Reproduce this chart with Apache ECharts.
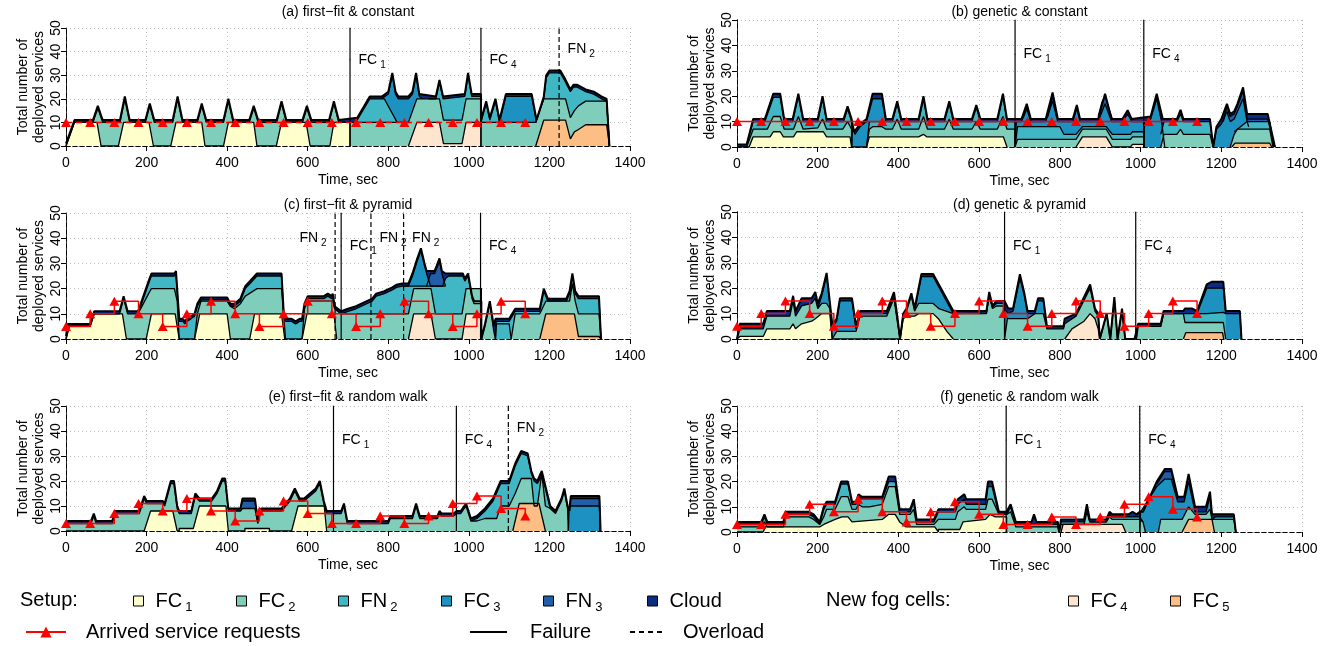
<!DOCTYPE html>
<html>
<head>
<meta charset="utf-8">
<script src="https://cdn.jsdelivr.net/npm/echarts/dist/echarts.min.js"></script>
<style>
html, body { margin: 0; padding: 0; background: #fff; }
#chart { width: 1334px; height: 646px; }
</style>
</head>
<body>
<div id="chart"></div>
<script>
// arrival times of service requests and their sizes
var reqTimes = [0,60,120,180,240,300,360,420,480,540,600,660,720,780,840,900,960,1020,1080,1140];
var reqConstant = [10,10,10,10,10,10,10,10,10,10,10,10,10,10,10,10,10,10,10,10];
var reqPyramid = [5,10,15,10,5,10,15,10,5,10,15,10,5,10,15,10,5,10,15,10];
var reqWalk = [3,3,7,11,8,13,8,4,8,12,7,3,3,6,3,6,11,14,9,6];

// stacked boundaries (cumulative number of services), null = gap
// (a) first-fit & constant
var a_FC1 = [[0,0],[21,10],[77,10],[87,0],[130,0],[143,10],[206,10],[217,0],[260,0],[273,10],[337,10],[345,0],[391,0],[403,10],[466,10],[474,0],[522,0],[535,10],[596,10],[606,0],[655,0],[665,10],[705,10],[705,0]];
var a_FC4 = [[850,0],[871,10],[927,10],[937,1],[983,1],[993,10],[1030,10],[1030,0]];
var a_FC5 = [[1166,0],[1186,11],[1240,11],[1252,3],[1262,6],[1272,7],[1290,9],[1342,9],[1349,0]];
var a_FC2 = [[0,0],[21,10],[67,10],[79,16],[91,10],[134,10],[146,20],[158,10],[197,10],[208,17],[219,10],[265,10],[277,20],[289,10],[326,10],[337,17],[348,10],[391,10],[403,19],[415,10],[455,10],[466,16],[477,10],[523,10],[535,18],[547,10],[587,10],[598,16],[609,10],[653,10],[665,18],[677,10],[850,10],[871,20],[927,20],[937,11],[983,11],[993,20],[1030,20],[1030,10],[1166,10],[1186,20],[1240,20],[1252,12],[1262,15],[1272,17],[1290,19],[1342,19],[1349,0]];
var a_FN2 = [[716,10],[723,11],[754,20],[790,20],[822,10],null,[900,20],[918,20],[927,27],[936,20],[990,21],[998,30],[1007,21],[1030,21],[1030,10],[1043,18],[1052,11],[1066,19],[1076,10],null,[1166,10],[1186,20],[1192,29],[1200,31],[1227,31],[1237,28],[1252,23],[1260,25],[1268,25],[1290,23],[1310,22],[1329,20],[1342,19],[1349,0]];
var a_FC3 = [[784,20],[800,22],[810,30],[818,22],[825,20],[850,20],[860,22],[869,30],[877,21],[885,20],null,[1076,10],[1092,21],[1156,21],[1168,10]];
var a_total = [[0,1],[21,11],[67,11],[79,17],[91,11],[134,11],[146,21],[158,11],[197,11],[208,18],[219,11],[265,11],[277,21],[289,11],[326,11],[337,18],[348,11],[391,11],[403,20],[415,11],[455,11],[466,17],[477,11],[523,11],[535,19],[547,11],[587,11],[598,17],[609,11],[653,11],[665,19],[677,11],[723,12],[754,21],[784,21],[800,23],[810,31],[818,23],[825,21],[850,21],[860,23],[869,31],[877,22],[918,21],[927,28],[936,21],[990,22],[998,31],[1007,22],[1030,22],[1030,11],[1043,19],[1052,12],[1066,20],[1076,11],[1092,22],[1156,22],[1168,11],[1186,21],[1192,30],[1200,32],[1227,32],[1237,29],[1252,24],[1260,26],[1268,26],[1290,24],[1310,23],[1329,21],[1342,20],[1349,0]];
var a_events = [[705,'FC1','failure'],[1030,'FC4','failure'],[1224,'FN2','overload']];

// (b) genetic & constant
var b_FC1 = [[0,0],[30,0],[40,4],[82,4],[90,6],[107,6],[115,4],[140,4],[148,6],[214,6],[222,4],[280,4],[284,0],[321,0],[328,4],[450,4],[462,5],[470,4],[660,4],[669,0]];
var b_FC4 = [[840,0],[856,4],[915,4],[930,0],[975,0],[980,1],[1008,1],[1008,0]];
var b_FC5 = [[1226,0],[1234,1.5],[1320,1.5],[1325,0]];
var b_FC2 = [[24,0],[40,7],[75,7],[90,12],[107,12],[117,7],[140,7],[152,12],[164,7],[200,7.5],[212,11],[222,7],[262,7],[274,10],[284,7],[284,0],null,[321,0],[328,7],[336,8],[359,8],[369,7],[385,7],[397,11],[407,7],[450,7],[462,12],[472,7],[514,7],[526,11],[536,7],[582,7],[593,10],[603,7],[645,7],[659,12],[669,7],[689,7],[689,0],[695,3],[840,3],[856,7],[915,7],[930,3],[975,3],[980,4],[1008,4],[1008,0],null,[1050,0],[1058,5],[1090,5],[1099,7],[1106,5],[1172,5],[1180,0],null,[1222,0],[1232,5],[1240,7],[1320,7],[1328,0]];
var b_FN2 = [[24,1],[40,10],[69,10],[90,19.5],[107,19.5],[117,10],[138,10],[152,20],[164,10],[200,10],[212,19],[222,10],[264,10],[274,15],[284,10],[284,0],null,[321,0],[328,10],[385,10],[397,17],[407,10],[450,10],[462,19],[472,10],[514,10],[526,17],[536,10],[582,10],[593,15.5],[603,10],[645,10],[659,20],[669,10],[689,10],[689,0],[695,8],[800,8],[810,5],[840,5],[856,8],[915,8],[930,5],[975,5],[980,6],[1008,6],[1008,0],null,[1050,5],[1058,10],[1090,10],[1099,13],[1106,10],[1172,10],[1180,0],null,[1232,6],[1264,10],[1320,10],[1330,0]];
var b_FC3 = [[284,0],[286,8],[292,5],[305,8],[321,10],[336,19],[359,19],[369,10],null,[689,0],[692,10],[705,10],[718,15],[728,10],[765,10],[782,18],[795,10],[832,10],[842,15],[850,10],[895,10],[912,17],[928,10],[955,10],[968,13],[978,10],[1008,10],[1008,0],[1010,10],[1025,11],[1040,19],[1052,10],[1056,5],[1060,0],null,[1180,0],[1188,7],[1200,9],[1214,14],[1222,10],[1232,11],[1240,14],[1254,19],[1264,10],[1268,8]];
var b_FN3 = [[710,12],[718,16],[726,12],null,[770,12],[782,20],[792,12],null,[895,12],[905,18],[912,20],[920,16],[930,11],null,[1030,14],[1040,20],[1050,12],null,[1205,10],[1214,16],[1222,12],[1232,13],[1240,16],[1254,22],[1264,11],[1315,11],[1333,0]];
var b_total = [[0,1],[24,1],[40,11],[69,11],[90,21],[107,21],[117,11],[138,11],[152,21],[164,11],[200,11],[212,20],[222,11],[264,11],[274,16],[284,11],[290,6],[305,9],[321,11],[336,21],[359,21],[369,11],[385,11],[397,18],[407,11],[450,11],[462,20],[472,11],[514,11],[526,18],[536,11],[582,11],[593,16.5],[603,11],[645,11],[659,21],[669,11],[705,11],[718,17],[728,11],[765,11],[782,21.5],[795,11],[832,11],[842,16.5],[850,11],[895,11],[912,21],[928,11],[955,11],[968,14.5],[978,11],[1025,12],[1040,21],[1055,11],[1090,11],[1099,14.6],[1106,11],[1172,11],[1180,0],[1188,8],[1200,11],[1214,17],[1222,13],[1232,14],[1240,17],[1254,23.5],[1264,13],[1315,13],[1333,0]];
var b_events = [[689,'FC1','failure'],[1008,'FC4','failure']];

// (c) first-fit & pyramid
var c_FC1 = [[0,0],[8,5],[60,5],[70,10],[140,10],[150,0],[199,0],[212,10],[271,10],[281,0],[319,0],[332,10],[400,10],[408,0],[456,0],[468,10],[535,10],[543,0],[586,0],[598,10],[665,10],[672,0]];
var c_FC4 = [[850,0],[863,10],[906,10],[917,0],[983,0],[993,10],[1031,10],[1031,0]];
var c_FC5 = [[1176,0],[1191,10],[1262,10],[1272,1],[1323,1],[1328,0]];
var c_FC2 = [[0,0],[8,5],[60,5],[70,10],[133,10],[143,16],[153,10],[179,10],[205,18],[212,20],[269,20],[276,15],[281,0],null,[319,0],[326,10],[335,15],[400,15],[408,13],[418,12],[433,14],[445,17],[474,20],[535,20],[541,8],[545,0],null,[586,0],[592,12],[600,15],[662,15],[667,12],[683,10],[850,10],[863,20],[906,20],[917,10],[983,10],[993,20],[1031,20],[1031,0],[1040,5],[1052,14],[1062,3],[1066,0],null,[1105,0],[1115,10],[1176,10],[1191,15],[1250,15],[1257,22],[1264,15],[1272,10],[1323,10],[1328,0]];
var c_FN2 = [[179,10],[205,22],[212,25],[269,25],[273,26],[281,7],[290,7],[295,6],[300,7],[310,8],[319,9],[326,13],[335,15.5],[400,15.5],[408,13],[418,13],[433,15],[445,20],[474,25],[535,25],[541,8],[545,7],[560,7],[570,6],[580,7],[586,7],[592,13],[600,16],[640,16],[650,17],[660,16],[662,17],[667,12],[683,10],[700,11],[720,12],[740,13.5],[760,15],[770,17],[790,18],[810,19.5],[820,20.5],[835,21],[935,21],[942,24],[950,25],[985,25],[990,23],[998,25],[1008,16],[1013,14],[1031,14],[1031,0],null,[1066,0],[1068,7],[1100,7],[1115,11],[1176,11],[1186,19],[1196,15],[1242,15],[1250,18],[1257,25],[1264,18],[1272,16],[1323,16],[1328,0]];
var c_FC3 = [[840,21],[850,21],[860,25],[872,31],[881,35],[890,29],[897,25],[905,21],[942,21],null,[1066,0],[1068,6],[1100,6],[1105,0]];
var c_FN3 = [[895,21],[905,26],[915,26],[920,28],[927,31],[933,26],[942,21]];
var c_total = [[0,1],[4,6],[60,6],[70,11],[133,11],[143,17],[153,11],[179,11],[205,23],[212,26],[269,26],[273,27],[281,8],[290,8],[295,7],[300,8],[310,9],[319,10],[326,14],[335,16.5],[400,16.5],[408,14],[418,14],[433,16],[445,21],[474,26],[535,26],[541,9],[545,8],[560,8],[570,7],[580,8],[586,8],[592,14],[600,17],[640,17],[650,18],[660,17],[662,18],[667,13],[683,11],[700,12],[720,13],[740,14.5],[760,16],[770,18],[790,19],[810,20.5],[820,21.5],[835,22],[850,22],[860,26],[872,32],[881,36],[890,30],[895,27],[915,27],[920,29],[927,32],[933,27],[942,26],[985,26],[990,24],[998,26],[1008,17],[1013,15],[1031,15],[1031,0],[1040,6],[1052,15],[1062,5],[1066,8],[1100,8],[1115,12],[1176,12],[1186,20],[1196,16],[1242,16],[1250,19],[1257,26],[1264,19],[1272,17],[1323,17],[1328,0]];
var c_events = [[668,'FN2','overload','left'],[683,'FC1','failure'],[757,'FN2','overload'],[838,'FN2','overload'],[1029,'FC4','failure']];

// (d) genetic & pyramid
var d_FC1 = [[0,0],[7,1],[65,1],[74,4],[131,4],[139,6],[145,4],[160,6],[185,7],[194,8],[210,10],[230,10],[236,0],[404,0],[412,8],[420,9],[440,9],[450,10],[486,10],[499,8],[520,3],[536,0]];
var d_FC4 = [[812,0],[830,4],[860,7],[875,10],[887,8],[895,4],[899,0]];
var d_FC5 = [[1106,0],[1112,2.5],[1203,2.5],[1206,0]];
var d_FC2 = [[0,0],[7,4],[65,4],[74,9],[131,9],[139,15],[145,9],[160,13],[185,14],[194,16],[200,12],[210,14],[222,14],[230,12],[236,0],[247,3],[295,3],[305,9],[371,9],[389,16],[398,6],[404,0],[412,10],[420,11],[432,17],[440,11],[450,14],[486,14],[500,12],[536,10],[618,10],[625,17],[633,12],[643,13],[663,13],[663,0],[670,8],[720,8],[738,10],[759,10],[768,4],[809,4],[812,6],[840,9],[875,20],[887,11],[895,9],[899,0],[916,10],[925,0],[935,15.5],[943,0],[954,11],[962,0],[990,0],[994,5],[1050,5],[1057,10],[1106,10],[1110,6.5],[1205,6.5],[1211,0]];
var d_FN2 = [[295,4],[305,10],[371,10],[389,17],[398,7],[404,0],null,[536,10],[618,10.3],[625,17.5],[633,12.5],[643,14],[663,14],null,[1050,5],[1057,10],[1106,10],[1164,10],[1205,10.5],[1211,10]];
var d_FC3 = [[200,12],[210,17],[222,25],[236,5],[247,7],[255,15],[285,15],[295,4],null,[440,11],[450,19],[457,24.6],[486,24.6],[536,10],null,[663,12],[672,10],[684,11],[701,24],[712,17],[720,10],[738,10],[746,15],[759,15],[768,4],null,[1140,10],[1164,20],[1205,20],[1211,10],[1246,10],[1250,0]];
var d_total = [[0,0],[7,6],[65,6],[74,11],[131,11],[139,17],[145,11],[160,16],[185,16],[194,18.5],[200,14],[210,18],[222,26],[236,6],[247,8],[255,16],[285,16],[295,5],[305,11],[371,11],[389,18.5],[398,8],[404,0],[412,10],[420,12],[432,18],[440,12],[450,20],[457,25.6],[486,25.6],[536,11],[618,11],[625,18.5],[633,13],[643,15],[663,15],[672,12],[684,12],[701,25.5],[712,18],[720,11],[738,11],[746,16],[759,16],[768,5],[809,5],[812,8],[840,10],[875,21.5],[887,12],[895,10],[899,0],[916,10],[925,0],[935,16.5],[943,0],[954,12],[962,0],[985,0],[994,6],[1050,6],[1057,11],[1106,11],[1110,12],[1127,12],[1140,11],[1164,21.5],[1176,22.5],[1205,22.5],[1211,11],[1246,11],[1250,0]];
var d_events = [[663,'FC1','failure'],[988,'FC4','failure']];

// (e) first-fit & random walk
var e_FC1 = [[0,0],[194,0],[210,8],[265,8],[276,0],[281,0],[281,1],[316,1],[331,10],[397,10],[403,0],[444,0],[444,1],[505,1],[505,0],[560,0],[576,10],[641,10],[647,0]];
var e_FC5 = [[1109,0],[1125,11],[1174,11],[1190,0]];
var e_FC2 = [[0,3],[62,3],[69,6],[75,3],[115,3],[121,7],[182,7],[188,10],[194,13],[200,11],[240,11],[245,10],[250,13],[260,19],[268,19],[276,9],[281,7],[311,7],[321,14],[331,12],[362,12],[375,15],[388,20],[395,20],[403,8],[433,8],[438,9],[469,9],[476,3],[484,8],[535,8],[556,12],[568,16],[580,12],[591,12],[620,16],[630,19],[640,11],[647,7],[683,7],[690,10],[698,3],[800,3],[805,5],[860,5],[869,10],[878,5],[922,5],[927,7],[932,6],[962,6],[970,7],[980,7],[993,10],[1005,4],[1020,4],[1040,5],[1069,5],[1079,10],[1100,10],[1115,15],[1130,21],[1155,21],[1162,10],[1170,10],[1181,23],[1190,10],[1202,9],[1215,7],[1230,12],[1237,16],[1245,9],[1247,0]];
var e_FN2 = [[1005,4],[1020,5],[1040,8],[1060,12],[1079,19],[1100,19],[1115,26],[1130,31],[1146,30],[1155,23],[1162,20],[1170,19],[1181,22],[1190,17],[1202,9]];
var e_FC3 = [[1247,0],[1249,10],[1324,10],[1326,0]];
var e_FN3 = [[433,9],[438,12],[469,12],[476,4],null,[1249,10],[1253,13],[1324,13],[1326,0]];
var e_total = [[0,3],[5,4],[62,4],[69,7],[75,4],[115,4],[121,8],[182,8],[188,11],[194,14],[200,12],[240,12],[245,11],[250,14],[260,20],[268,20],[276,10],[281,8],[311,8],[321,15],[331,13],[362,13],[375,16],[388,21],[395,21],[403,9],[433,9],[438,13],[469,13],[476,4],[484,9],[535,9],[556,13],[568,17],[580,13],[591,13],[620,17],[630,20],[640,12],[647,8],[683,8],[690,11],[698,4],[800,4],[805,6],[860,6],[869,11],[878,6],[922,6],[927,8],[932,7],[962,7],[970,8],[980,8],[993,11],[1005,5],[1020,6],[1040,9],[1060,13],[1079,20],[1100,20],[1115,27],[1130,32],[1146,31],[1155,24],[1162,21],[1170,20],[1181,24],[1190,18],[1202,10],[1215,8],[1230,13],[1237,17],[1245,10],[1250,8],[1253,14],[1324,14],[1327,0]];
var e_events = [[664,'FC1','failure'],[969,'FC4','failure'],[1098,'FN2','overload']];

// (f) genetic & random walk
var f_FC1 = [[0,0],[65,0],[70,2],[205,2],[215,3],[243,5],[260,6],[275,6],[285,4],[360,5],[376,7],[392,7],[403,4],[419,2],[490,2],[499,0],[499,1],[552,1],[560,4],[616,5],[627,7],[640,6],[668,6],[668,0]];
var f_FC4 = [[803,0],[808,3],[955,3],[963,0]];
var f_FC5 = [[1103,0],[1119,5],[1177,5],[1183,0]];
var f_FC2 = [[0,2],[60,2],[68,4],[75,2],[115,2],[120,6],[178,6],[190,5],[205,3],[215,6],[222,9],[243,9],[258,14],[275,14],[285,9],[295,9],[301,11],[310,10],[328,10],[360,11],[376,18],[392,18],[403,7],[429,7],[438,9],[445,3],[488,3],[499,5],[541,5],[547,8],[563,10],[568,9],[616,9],[622,13],[632,13],[649,7],[668,7],[678,8],[691,2],[795,2],[798,0],[803,3],[860,3],[867,8],[874,4],[915,4],[923,6],[930,5],[970,5],[998,5],[1006,4],[1012,0],null,[1044,0],[1050,5],[1103,5],[1119,10],[1135,7],[1162,7],[1172,9],[1177,5],[1231,5],[1236,0]];
var f_FN2 = [[0,3],[60,3],[68,6],[75,3],[115,3],[120,7],[178,7],[190,6],[205,3],[215,9],[222,11],[243,11],[258,19],[275,19],[285,11],[295,11],[301,14],[310,13],[328,13],[360,13],[376,20],[392,20],[403,8],[429,8],[438,12],[445,4],[488,4],[499,8],[541,8],[547,11],[563,13],[568,11],[616,11],[622,18],[632,18],[649,7],[668,7],[678,10],[691,3],[795,3],[798,0],[803,4],[860,4],[867,10],[874,4],[915,4],[923,7],[930,6],[970,6],[998,6],[1006,4],null,[1177,5],[1185,6],[1231,6],[1236,0]];
var f_FC3 = [[998,0],[1000,8],[1040,18],[1060,21],[1076,21],[1092,12],[1108,12],[1119,20],[1135,8],[1162,8],[1172,14],[1177,6]];
var f_FN3 = [[1040,19],[1060,24],[1076,24],[1092,13]];
var f_total = [[0,3],[5,4],[60,4],[68,7],[75,4],[115,4],[120,8],[178,8],[190,7],[205,4],[215,10],[222,12],[243,12],[258,20],[275,20],[285,12],[295,12],[301,15],[310,14],[328,14],[360,14],[376,22],[392,22],[403,9],[429,9],[438,13],[445,5],[488,5],[499,9],[541,9],[547,13],[563,15],[568,13],[616,13],[622,20],[632,20],[649,8],[668,8],[678,11],[691,4],[730,4],[736,7],[742,4],[795,4],[798,0],[803,5],[860,5],[867,11],[874,5],[915,5],[923,8],[930,7],[970,7],[980,8],[990,7],[998,8],[1006,8],[1040,20],[1060,25],[1076,25],[1092,14],[1108,14],[1119,23],[1135,10],[1162,10],[1172,16],[1177,7],[1231,7],[1236,0]];
var f_events = [[667,'FC1','failure'],[998,'FC4','failure']];

var colors = {
    FC1: '#ffffcc', FC2: '#7fcdbb', FN2: '#41b6c4', FC3: '#1d91c0',
    FN3: '#225ea8', Cloud: '#0c2c84', FC4: '#fee6ce', FC5: '#fdbe85'
};
// drawn from the top of the stack down, each fills to zero
var paintOrder = ['Cloud', 'FN3', 'FC3', 'FN2', 'FC2', 'FC5', 'FC4', 'FC1'];
var FONT = '"Liberation Sans", Arial, sans-serif';

var panels = [
    { title: '(a) first\u2212fit & constant', req: reqConstant, dashedReq: true, events: a_events,
      layers: { Cloud: a_total, FC3: a_FC3, FN2: a_FN2, FC2: a_FC2, FC5: a_FC5, FC4: a_FC4, FC1: a_FC1 },
      box: { left: 66, top: 28, width: 564, height: 118 }, titleY: 12 },
    { title: '(b) genetic & constant', req: reqConstant, events: b_events,
      layers: { Cloud: b_total, FN3: b_FN3, FC3: b_FC3, FN2: b_FN2, FC2: b_FC2, FC5: b_FC5, FC4: b_FC4, FC1: b_FC1 },
      box: { left: 737, top: 20, width: 565, height: 127 }, titleY: 12 },
    { title: '(c) first\u2212fit & pyramid', req: reqPyramid, events: c_events,
      layers: { Cloud: c_total, FN3: c_FN3, FC3: c_FC3, FN2: c_FN2, FC2: c_FC2, FC5: c_FC5, FC4: c_FC4, FC1: c_FC1 },
      box: { left: 66, top: 213, width: 564, height: 126 }, titleY: 205 },
    { title: '(d) genetic & pyramid', req: reqPyramid, events: d_events,
      layers: { Cloud: d_total, FC3: d_FC3, FN2: d_FN2, FC2: d_FC2, FC5: d_FC5, FC4: d_FC4, FC1: d_FC1 },
      box: { left: 737, top: 212, width: 565, height: 127 }, titleY: 205 },
    { title: '(e) first\u2212fit & random walk', req: reqWalk, events: e_events,
      layers: { Cloud: e_total, FN3: e_FN3, FC3: e_FC3, FN2: e_FN2, FC2: e_FC2, FC5: e_FC5, FC1: e_FC1 },
      box: { left: 66, top: 406, width: 564, height: 125 }, titleY: 397 },
    { title: '(f) genetic & random walk', req: reqWalk, events: f_events,
      layers: { Cloud: f_total, FN3: f_FN3, FC3: f_FC3, FN2: f_FN2, FC2: f_FC2, FC5: f_FC5, FC4: f_FC4, FC1: f_FC1 },
      box: { left: 737, top: 406, width: 565, height: 126 }, titleY: 397 }
];

function sub(name) {
    var m = /^([A-Z]+)(\d)$/.exec(name);
    return m ? '{m|' + m[1] + '}{s|' + m[2] + '}' : name;
}
function toData(pts) {
    return pts.map(function (p) { return p === null ? ['-', '-'] : p; });
}

var grids = [], xAxes = [], yAxes = [], series = [], graphics = [];
var dashedEdge = { show: true, lineStyle: { color: '#000', type: [4, 3], width: 1 } };

panels.forEach(function (p, i) {
    grids.push({ left: p.box.left, top: p.box.top, width: p.box.width, height: p.box.height, outerBoundsMode: 'none' });
    xAxes[i] = {
        type: 'value', gridIndex: i, min: 0, max: 1400, interval: 200,
        axisLine: dashedEdge,
        axisTick: { show: true, length: 5, lineStyle: { color: '#000' } },
        axisLabel: { fontSize: 14, color: '#000', margin: 10, fontFamily: FONT,
                     formatter: function (v) { return String(v); } },
        splitLine: { show: true, lineStyle: { color: '#bdbdbd', type: [1, 3] } },
        name: 'Time, sec', nameLocation: 'middle', nameGap: 27,
        nameTextStyle: { fontSize: 14, color: '#000', fontFamily: FONT }
    };
    xAxes[i + 6] = {
        type: 'value', gridIndex: i, min: 0, max: 1400, position: 'top',
        axisLine: dashedEdge, axisTick: { show: false }, axisLabel: { show: false }, splitLine: { show: false }
    };
    yAxes[i] = {
        type: 'value', gridIndex: i, min: 0, max: 50, interval: 10,
        axisLine: { show: true, lineStyle: { color: '#333', width: 1 } },
        axisTick: { show: true, length: 5, lineStyle: { color: '#000' } },
        axisLabel: { fontSize: 14, color: '#000', rotate: 90, margin: 3, fontFamily: FONT },
        splitLine: { show: true, lineStyle: { color: '#bdbdbd', type: [1, 3] } },
        name: 'Total number of\ndeployed services', nameLocation: 'middle', nameRotate: 90, nameGap: 19,
        nameTextStyle: { fontSize: 14, lineHeight: 16, color: '#000', fontFamily: FONT }
    };
    yAxes[i + 6] = {
        type: 'value', gridIndex: i, min: 0, max: 50, position: 'right',
        axisLine: dashedEdge, axisTick: { show: false }, axisLabel: { show: false }, splitLine: { show: false }
    };

    // filled layers
    paintOrder.forEach(function (name) {
        var pts = p.layers[name];
        if (!pts) return;
        series.push({
            type: 'line', name: 'area ' + name, xAxisIndex: i, yAxisIndex: i,
            data: toData(pts), symbol: 'none', silent: true, z: 2,
            lineStyle: { width: 0, opacity: 0 },
            itemStyle: { color: colors[name] },
            areaStyle: { color: colors[name], opacity: 1 }
        });
    });
    // black boundary lines
    paintOrder.forEach(function (name) {
        var pts = p.layers[name];
        if (!pts) return;
        series.push({
            type: 'line', name: 'edge ' + name, xAxisIndex: i, yAxisIndex: i,
            data: toData(pts), symbol: 'none', silent: true, z: 3,
            lineStyle: { color: '#000', width: name === 'Cloud' ? 2 : 1.3 }
        });
    });

    // failure / overload markers
    p.events.forEach(function (ev) {
        var overload = ev[2] === 'overload';
        var labelY = overload ? 41 : 36.5;
        if (i === 2) labelY = overload ? 40 : 37;
        series.push({
            type: 'line', name: overload ? 'overload line' : 'failure line',
            xAxisIndex: i, yAxisIndex: i, z: 5, silent: true,
            symbol: 'circle', symbolSize: 1, showSymbol: true,
            itemStyle: { color: '#000' },
            lineStyle: { color: '#000', width: 1.2, type: overload ? [5, 3] : 'solid' },
            label: { show: false },
            data: [[ev[0], 0], {
                value: [ev[0], labelY],
                label: {
                    show: true, position: ev[3] === 'left' ? 'left' : 'right', distance: 8,
                    formatter: sub(ev[1]), color: '#000', fontFamily: FONT,
                    rich: { m: { fontSize: 14, fontFamily: FONT, color: '#000' },
                            s: { fontSize: 10, fontFamily: FONT, color: '#000', padding: [10, 0, 0, 3] } }
                }
            }, [ev[0], 50]]
        });
    });

    // arrived service requests
    series.push({
        type: 'line', name: 'requests', xAxisIndex: i, yAxisIndex: i, z: 6, silent: true,
        step: 'end', symbol: 'triangle', symbolSize: [10, 9], showSymbol: true,
        itemStyle: { color: '#ff0000' },
        lineStyle: { color: '#ff0000', width: 1.5, type: p.dashedReq ? [6, 4] : 'solid' },
        data: reqTimes.map(function (t, k) { return [t, p.req[k]]; })
    });

    graphics.push({
        type: 'text', x: p.box.left + p.box.width / 2, y: p.titleY, z: 100,
        style: { text: p.title, font: '14px ' + FONT, fill: '#000',
                 textAlign: 'center', textVerticalAlign: 'middle', align: 'center', verticalAlign: 'middle' }
    });
});

// legend-only series
var legendBoxes = [['FC1', 128], ['FC2', 231], ['FN2', 333], ['FC3', 436], ['FN3', 538], ['Cloud', 642], ['FC4', 1063], ['FC5', 1165]];
legendBoxes.forEach(function (b) {
    series.push({ type: 'bar', name: b[0], xAxisIndex: 0, yAxisIndex: 0, data: [],
                  itemStyle: { color: colors[b[0]], borderColor: '#000', borderWidth: 1 } });
});
series.push({ type: 'line', name: 'Arrived service requests', xAxisIndex: 0, yAxisIndex: 0, data: [],
              symbol: 'triangle', symbolSize: [12, 11], itemStyle: { color: '#ff0000' },
              lineStyle: { color: '#ff0000', width: 1.5 } });
series.push({ type: 'line', name: 'Failure', xAxisIndex: 0, yAxisIndex: 0, data: [],
              symbol: 'none', itemStyle: { color: '#000' }, lineStyle: { color: '#000', width: 1.5 } });
series.push({ type: 'line', name: 'Overload', xAxisIndex: 0, yAxisIndex: 0, data: [],
              symbol: 'none', itemStyle: { color: '#000' }, lineStyle: { color: '#000', width: 1.5, type: [4, 3] } });

var legendText = {
    fontSize: 20, color: '#000', fontFamily: FONT, padding: [0, 0, 0, 7],
    rich: { m: { fontSize: 20, fontFamily: FONT, color: '#000' },
            s: { fontSize: 13, fontFamily: FONT, color: '#000', padding: [12, 0, 0, 3] } }
};
var legends = legendBoxes.map(function (b) {
    return { data: [b[0]], left: b[1], top: 586, icon: 'rect', itemWidth: 10, itemHeight: 10,
             itemStyle: { borderColor: '#000', borderWidth: 1 }, textStyle: legendText,
             formatter: function (n) { return sub(n); }, selectedMode: false };
});
legends.push({ data: ['Arrived service requests'], left: 20, top: 617, itemWidth: 40, itemHeight: 14,
               textStyle: Object.assign({}, legendText, { padding: [0, 0, 0, 15] }), selectedMode: false });
legends.push({ data: ['Failure'], left: 465, top: 617, itemWidth: 37, itemHeight: 2, icon: 'rect',
               itemStyle: { color: '#000', borderWidth: 0 },
               textStyle: Object.assign({}, legendText, { padding: [0, 0, 0, 18] }), selectedMode: false });
legends.push({ data: ['Overload'], left: 625, top: 617, itemWidth: 32, itemHeight: 2,
               icon: 'path://M0,0h5v2h-5z M9,0h5v2h-5z M18,0h5v2h-5z M27,0h5v2h-5z',
               itemStyle: { color: '#000', borderWidth: 0 },
               textStyle: Object.assign({}, legendText, { padding: [0, 0, 0, 16] }), selectedMode: false });

graphics.push({ type: 'text', x: 20, y: 600, style: { text: 'Setup:', font: '20px ' + FONT, fill: '#000',
                textAlign: 'left', textVerticalAlign: 'middle', align: 'left', verticalAlign: 'middle' } });
graphics.push({ type: 'text', x: 826, y: 600, style: { text: 'New fog cells:', font: '20px ' + FONT, fill: '#000',
                textAlign: 'left', textVerticalAlign: 'middle', align: 'left', verticalAlign: 'middle' } });

var chart = echarts.init(document.getElementById('chart'));
chart.setOption({
    animation: false,
    backgroundColor: '#fff',
    textStyle: { fontFamily: FONT },
    grid: grids,
    xAxis: xAxes,
    yAxis: yAxes,
    legend: legends,
    graphic: graphics,
    series: series
});
</script>
</body>
</html>
